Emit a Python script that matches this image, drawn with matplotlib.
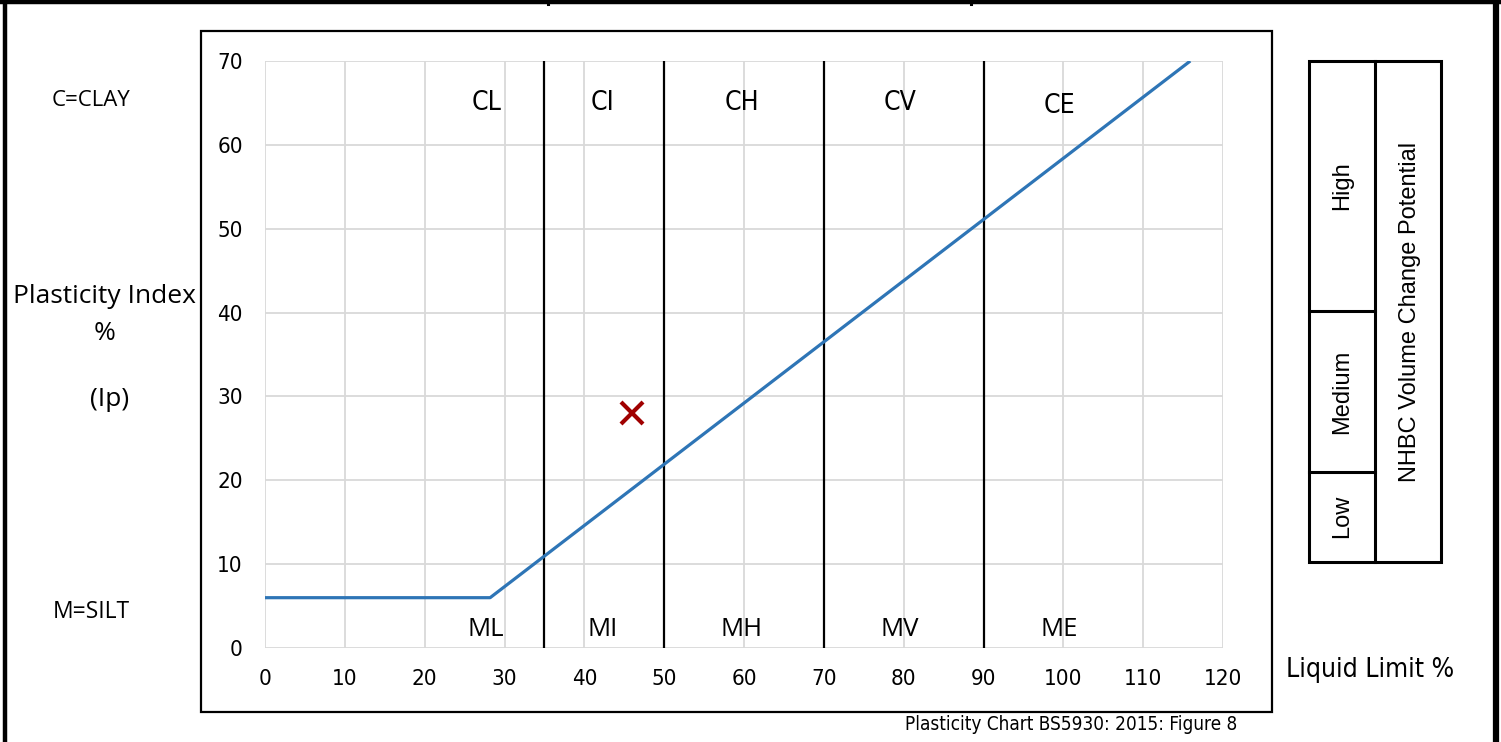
import matplotlib
matplotlib.use("Agg")
import matplotlib.pyplot as plt
from matplotlib.patches import Rectangle
from matplotlib.lines import Line2D
from matplotlib import font_manager as fm

# ---- data ----
a_line_x = [0, 28.2, 115.9]
a_line_y = [6, 6, 70]
boundaries_ll = [35, 50, 70, 90]
clay_labels = ["CL", "CI", "CH", "CV", "CE"]
silt_labels = ["ML", "MI", "MH", "MV", "ME"]
label_x = [27.7, 42.3, 59.7, 79.5, 99.5]
clay_label_y = [65, 65, 65, 65, 64.6]
silt_label_y = [2.2, 2.2, 2.2, 2.2, 2.2]
sample_ll = [46]
sample_pi = [28]
x_ticks = [0, 10, 20, 30, 40, 50, 60, 70, 80, 90, 100, 110, 120]
y_ticks = [0, 10, 20, 30, 40, 50, 60, 70]
nhbc_levels = ["High", "Medium", "Low"]

names = {f.name for f in fm.fontManager.ttflist}
if "Liberation Sans Narrow" in names:
    NARROW = ["Liberation Sans Narrow", "DejaVu Sans"]
    NSTRETCH = "normal"
else:
    NARROW = ["DejaVu Sans"]
    NSTRETCH = "condensed"
OPEN = ["Open Sans", "DejaVu Sans"]
ARIAL = ["Liberation Sans", "DejaVu Sans"]

W, H = 1501, 742
fig = plt.figure(figsize=(W / 100, H / 100), dpi=100)

def fx(px):
    return px / W

def fy(py):
    return 1 - py / H

# outer frame lines
fig.add_artist(Line2D([fx(5), fx(5)], [fy(0), fy(742)], color="black", lw=3.2))
fig.add_artist(Line2D([fx(1496), fx(1496)], [fy(0), fy(742)], color="black", lw=4.5))
fig.add_artist(Line2D([fx(0), fx(1501)], [fy(2), fy(2)], color="black", lw=3.2))
for xp in (548, 971):
    fig.add_artist(Line2D([fx(xp), fx(xp)], [fy(0), fy(4)], color="black", lw=2.2))

# chart area box
fig.add_artist(Rectangle((fx(201), fy(712)), fx(1272) - fx(201), fy(31) - fy(712),
                         fill=False, edgecolor="black", lw=1.6))

ax = fig.add_axes([fx(265), fy(648), fx(1223) - fx(265), fy(61) - fy(648)])
ax.set_xlim(0, 120)
ax.set_ylim(0, 70)
for s in ax.spines.values():
    s.set_visible(False)
ax.set_xticks(x_ticks)
ax.set_yticks(y_ticks)
ax.grid(True, color="#d9d9d9", lw=1.3)
ax.set_axisbelow(True)
ax.tick_params(length=0, pad=15)
ax.tick_params(axis="y", pad=16)
for lab in ax.get_xticklabels() + ax.get_yticklabels():
    lab.set_family(NARROW)
    lab.set_stretch(NSTRETCH)
    lab.set_fontsize(16)

for b in boundaries_ll:
    ax.plot([b, b], [0, 70], color="black", lw=1.6, zorder=3)

ax.plot(a_line_x, a_line_y, color="#2e75b6", lw=2.3, zorder=4, solid_capstyle="butt")
ax.plot(sample_ll, sample_pi, marker="x", linestyle="none", color="#a00000",
        markersize=16, mew=3, zorder=5)

for t, x, y in zip(clay_labels, label_x, clay_label_y):
    ax.text(x, y, t, ha="center", va="center", fontsize=19, family=NARROW, stretch=NSTRETCH)
for t, x, y in zip(silt_labels, label_x, silt_label_y):
    ax.text(x, y, t, ha="center", va="center", fontsize=18.5, family=OPEN)

# left text
fig.text(fx(91), fy(100), "C=CLAY", ha="center", va="center", fontsize=16, family=OPEN)
fig.text(fx(91), fy(612), "M=SILT", ha="center", va="center", fontsize=16.5, family=OPEN)
fig.text(fx(104), fy(296), "Plasticity Index", ha="center", va="center", fontsize=19, family=OPEN)
fig.text(fx(105), fy(333), "%", ha="center", va="center", fontsize=19, family=OPEN)
fig.text(fx(110), fy(399), "(Ip)", ha="center", va="center", fontsize=19, family=OPEN)

# right text
fig.text(fx(1370), fy(670), "Liquid Limit %", ha="center", va="center", fontsize=19,
         family=NARROW, stretch=NSTRETCH)
fig.text(fx(1071), fy(725), "Plasticity Chart BS5930: 2015: Figure 8", ha="center", va="center",
         fontsize=13.6, family=NARROW, stretch=NSTRETCH)

# NHBC table
fig.add_artist(Rectangle((fx(1309), fy(562)), fx(1441) - fx(1309), fy(61) - fy(562),
                         fill=False, edgecolor="black", lw=2.2))
fig.add_artist(Line2D([fx(1375), fx(1375)], [fy(61), fy(562)], color="black", lw=2.2))
for yp in (311, 472):
    fig.add_artist(Line2D([fx(1309), fx(1375)], [fy(yp), fy(yp)], color="black", lw=2.2))
for t, yc in zip(nhbc_levels, [186, 392, 516]):
    fig.text(fx(1342), fy(yc), t, ha="center", va="center", rotation=90, fontsize=17, family=ARIAL)
fig.text(fx(1410), fy(312), "NHBC Volume Change Potential", ha="center", va="center",
         rotation=90, fontsize=17, family=ARIAL)

fig.savefig("out.png", dpi=100)
